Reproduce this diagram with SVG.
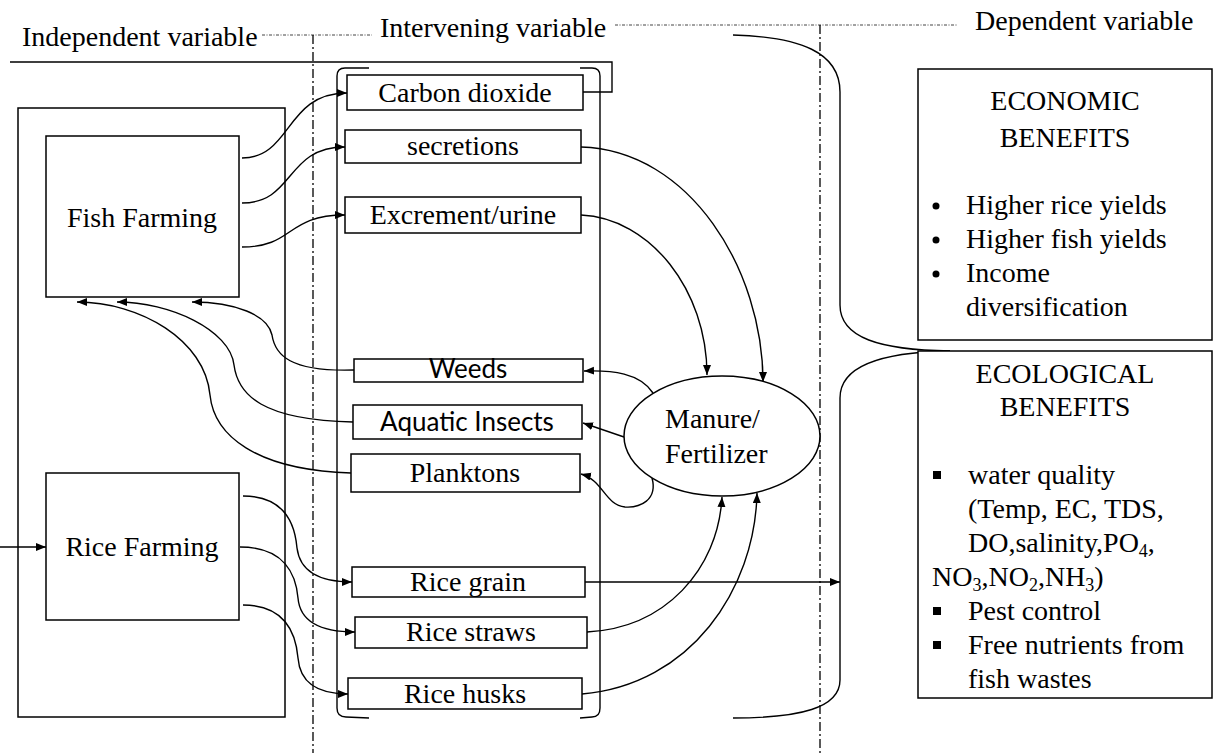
<svg xmlns="http://www.w3.org/2000/svg" width="1220" height="753" viewBox="0 0 1220 753">
<style>
.bx{fill:#fff;stroke:#000;stroke-width:1.5}
.t{font-family:"Liberation Serif","Times New Roman",serif;font-size:28px;fill:#000}
.s{font-family:Lato,"Liberation Sans",sans-serif;font-size:26px;fill:#000}
.c{fill:none;stroke:#000;stroke-width:1.4}
.ca{fill:none;stroke:#000;stroke-width:1.4;marker-end:url(#ah)}
.dd{fill:none;stroke:#000;stroke-width:1.3;stroke-dasharray:9 3 2 3}
.dt{fill:none;stroke:#444;stroke-width:1;stroke-dasharray:3 1.5 1 1.5}
.m{text-anchor:middle}
</style>
<defs>
<marker id="ah" markerUnits="userSpaceOnUse" markerWidth="11" markerHeight="9" refX="10" refY="4" orient="auto">
<path d="M0,0 L10,4 L0,8 z" fill="#000"/>
</marker>
</defs>

<g id="headers">
<text class="t" x="22" y="46">Independent variable</text>
<text class="t" x="380" y="37">Intervening variable</text>
<text class="t" x="975" y="30">Dependent variable</text>
<path class="dt" d="M262,35 L372,35"/>
<path class="dt" d="M615,25 L958,25"/>
<path class="dd" d="M313,35 L313,753"/>
<path class="dd" d="M820,25 L820,753"/>
</g>

<g id="independent-frame">
<rect x="18" y="108" width="267" height="609" fill="none" stroke="#000" stroke-width="1.5"/>
</g>

<g id="brackets">
<path class="c" d="M369,68 L345,68 Q337,68 337,76 L337,708 Q337,717 346,717 L369,718"/>
<path class="c" d="M580,68 L592,68 Q600,68 600,76 L600,708 Q600,717 592,717 L580,718"/>
<path class="c" d="M733,35 C800,37 840,52 840,92 L840,305 C840,338 880,350 950,351"/>
<path class="c" d="M950,351 C885,352 840,365 840,398 L840,680 C840,708 800,718 733,718"/>
</g>

<g id="connectors">
<path class="c" d="M10,62 L612,62 L612,92 L583,92"/>
<path class="ca" d="M0,547 L46,547"/>
<path class="ca" d="M242,158 C292,158 285,93 347,93"/>
<path class="ca" d="M242,203 C295,203 285,147 345,147"/>
<path class="ca" d="M242,247 C295,247 285,215 345,215"/>
<path class="ca" d="M354,370 C290,372 275,355 272,335 C268,315 235,302 192,302"/>
<path class="ca" d="M353,422 C262,420 238,395 234,365 C230,330 170,302 117,302"/>
<path class="ca" d="M351,473 C255,470 214,435 210,395 C205,340 140,302 77,302"/>
<path class="ca" d="M581,215 C650,218 707,290 707,375"/>
<path class="ca" d="M581,147 C690,150 763,270 763,382"/>
<path class="ca" d="M653,393 C640,373 612,370 584,371"/>
<path class="ca" d="M624,437 L583,423"/>
<path class="ca" d="M652,478 C658,500 640,508 625,507 C605,505 603,480 581,474"/>
<path class="ca" d="M585,582 L840,582"/>
<path class="ca" d="M587,632 C665,628 718,570 722,497"/>
<path class="ca" d="M582,694 C690,685 755,590 757,493"/>
<path class="ca" d="M243,496 C285,496 295,525 297,548 C300,572 320,582 352,582"/>
<path class="ca" d="M240,547 C285,547 296,575 298,598 C300,622 322,632 355,632"/>
<path class="ca" d="M243,605 C287,605 296,635 298,658 C300,684 320,694 348,694"/>
</g>

<g id="fish-farming">
<rect class="bx" x="46" y="136" width="193" height="161"/>
<text class="t m" x="142" y="227">Fish Farming</text>
</g>
<g id="rice-farming">
<rect class="bx" x="46" y="473" width="193" height="147"/>
<text class="t m" x="142" y="556">Rice Farming</text>
</g>

<g id="carbon-dioxide">
<rect class="bx" x="347" y="75" width="236" height="35"/>
<text class="t m" x="465" y="102">Carbon dioxide</text>
</g>
<g id="secretions">
<rect class="bx" x="345" y="130" width="236" height="33"/>
<text class="t m" x="463" y="155">secretions</text>
</g>
<g id="excrement">
<rect class="bx" x="345" y="197" width="236" height="36"/>
<text class="t m" x="463" y="224">Excrement/urine</text>
</g>
<g id="weeds">
<rect class="bx" x="354" y="359" width="229" height="23"/>
<text class="s m" x="468" y="378">Weeds</text>
</g>
<g id="aquatic-insects">
<rect class="bx" x="353" y="405" width="229" height="34"/>
<text class="s m" x="467" y="431">Aquatic Insects</text>
</g>
<g id="planktons">
<rect class="bx" x="351" y="454" width="229" height="38"/>
<text class="t m" x="465" y="482">Planktons</text>
</g>
<g id="rice-grain">
<rect class="bx" x="352" y="567" width="233" height="30"/>
<text class="t m" x="468" y="591">Rice grain</text>
</g>
<g id="rice-straws">
<rect class="bx" x="355" y="617" width="232" height="31"/>
<text class="t m" x="471" y="641">Rice straws</text>
</g>
<g id="rice-husks">
<rect class="bx" x="348" y="678" width="234" height="31"/>
<text class="t m" x="465" y="703">Rice husks</text>
</g>

<g id="manure">
<ellipse class="bx" cx="722" cy="436" rx="98" ry="60"/>
<text class="t" x="665" y="428">Manure/</text>
<text class="t" x="665" y="463">Fertilizer</text>
</g>

<g id="economic-benefits">
<rect class="bx" x="918" y="69" width="294" height="271"/>
<text class="t m" x="1065" y="110">ECONOMIC</text>
<text class="t m" x="1065" y="147">BENEFITS</text>
<circle cx="936" cy="206" r="3.5" fill="#000"/>
<circle cx="936" cy="240" r="3.5" fill="#000"/>
<circle cx="936" cy="274" r="3.5" fill="#000"/>
<text class="t" x="966" y="214">Higher rice yields</text>
<text class="t" x="966" y="248">Higher fish yields</text>
<text class="t" x="966" y="282">Income</text>
<text class="t" x="966" y="316">diversification</text>
</g>

<g id="ecological-benefits">
<rect class="bx" x="918" y="351" width="294" height="347"/>
<text class="t m" x="1065" y="383">ECOLOGICAL</text>
<text class="t m" x="1065" y="416">BENEFITS</text>
<rect x="933" y="471" width="8" height="8" fill="#000"/>
<rect x="933" y="607" width="8" height="8" fill="#000"/>
<rect x="933" y="641" width="8" height="8" fill="#000"/>
<text class="t" x="968" y="484">water quality</text>
<text class="t" x="968" y="518">(Temp, EC, TDS,</text>
<text class="t" x="968" y="552">DO,salinity,PO<tspan font-size="18" dy="5">4</tspan><tspan dy="-5">,</tspan></text>
<text class="t" x="932" y="586">NO<tspan font-size="18" dy="5">3</tspan><tspan dy="-5">,NO</tspan><tspan font-size="18" dy="5">2</tspan><tspan dy="-5">,NH</tspan><tspan font-size="18" dy="5">3</tspan><tspan dy="-5">)</tspan></text>
<text class="t" x="968" y="620">Pest control</text>
<text class="t" x="968" y="654">Free nutrients from</text>
<text class="t" x="968" y="688">fish wastes</text>
</g>
</svg>
